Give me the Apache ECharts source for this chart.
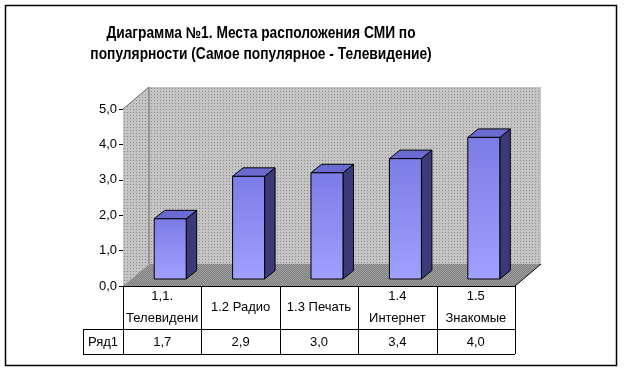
<!DOCTYPE html>
<html><head><meta charset="utf-8">
<script src="https://cdn.jsdelivr.net/npm/echarts@6/dist/echarts.min.js"></script>
<style>html,body{margin:0;padding:0;background:#fff}#c{width:624px;height:373px}</style>
</head><body><div id="c"></div>
<script>
const titleLines = ['Диаграмма №1. Места расположения СМИ по', 'популярности (Самое популярное - Телевидение)'];
const categories = ['1,1.\nТелевидени', '1.2 Радио', '1.3 Печать', '1.4\nИнтернет', '1.5\nЗнакомые'];
const values = [1.7, 2.9, 3.0, 3.4, 4.0];
const seriesName = 'Ряд1';
const yMin = 0, yMax = 5, yStep = 1;

const FONT = '"Liberation Sans", Arial, sans-serif';
const fmt = v => v.toFixed(1).replace('.', ',');
const DEPTH = [26, -22];      // full floor depth
const BAR_OFF = [8, -7];      // bar front-face offset from front plane
const BAR_DEP = [10.5, -8.5]; // bar depth

function makePattern(size, base, dot, cells) {
  const c = document.createElement('canvas');
  c.width = size; c.height = size;
  const g = c.getContext('2d');
  g.fillStyle = base; g.fillRect(0, 0, size, size);
  g.fillStyle = dot;
  cells.forEach(p => g.fillRect(p[0], p[1], 1, 1));
  return {image: c, repeat: 'repeat'};
}
const WALL = makePattern(3, '#c4c4c4', '#8e8e8e', [[1, 1]]);
const FLOOR = makePattern(2, '#7c7c7c', '#a2a2a2', [[0, 0], [1, 1]]);

const chart = echarts.init(document.getElementById('c'), null, {renderer: 'canvas'});

function wallsItem(params, api) {
  const cs = params.coordSys;
  const x0 = cs.x, x1 = cs.x + cs.width, y0 = cs.y, y1 = cs.y + cs.height;
  const dx = DEPTH[0], dy = DEPTH[1];
  return {type: 'group', children: [
    {type: 'polygon', shape: {points: [[x0, y1], [x0, y0], [x0 + dx, y0 + dy], [x0 + dx, y1 + dy]]}, style: {fill: WALL}},
    {type: 'rect', shape: {x: x0 + dx, y: y0 + dy, width: cs.width, height: cs.height}, style: {fill: WALL}},
    {type: 'polygon', shape: {points: [[x0, y1], [x1, y1], [x1 + dx, y1 + dy], [x0 + dx, y1 + dy]]}, style: {fill: FLOOR}},
    {type: 'line', shape: {x1: x0 + dx, y1: y0 + dy, x2: x0 + dx, y2: y1 + dy}, style: {stroke: '#6e6e6e', lineWidth: 1}},
    {type: 'line', shape: {x1: x0, y1: y0, x2: x0 + dx, y2: y0 + dy}, style: {stroke: '#6e6e6e', lineWidth: 1}},
    {type: 'line', shape: {x1: x1, y1: y1, x2: x1 + dx, y2: y1 + dy}, style: {stroke: '#000', lineWidth: 1}}
  ]};
}

function barItem(params, api) {
  const i = api.value(0), v = api.value(1);
  const base = api.coord([i, 0]), top = api.coord([i, v]);
  const band = api.size([1, 0])[0];
  const w = band * 0.408;
  const L = base[0] + BAR_OFF[0] - w / 2, R = L + w;
  const yt = top[1] + BAR_OFF[1], yb = base[1] + BAR_OFF[1];
  const ddx = BAR_DEP[0], ddy = BAR_DEP[1];
  const edge = {stroke: '#000', lineWidth: 1, lineJoin: 'round'};
  return {type: 'group', children: [
    {type: 'polygon', shape: {points: [[R, yt], [R + ddx, yt + ddy], [R + ddx, yb + ddy], [R, yb]]},
      style: Object.assign({fill: '#3a3a78'}, edge)},
    {type: 'polygon', shape: {points: [[L, yt], [R, yt], [R + ddx, yt + ddy], [L + ddx, yt + ddy]]},
      style: Object.assign({fill: '#6a6ad0'}, edge)},
    {type: 'rect', shape: {x: L, y: yt, width: w, height: yb - yt},
      style: Object.assign({fill: new echarts.graphic.LinearGradient(0, 0, 0, 1, [
        {offset: 0, color: '#7c7ce6'}, {offset: 1, color: '#a0a0ff'}])}, edge)}
  ]};
}

function tableItem(params, api) {
  const cs = params.coordSys;
  const x0 = cs.x, x1 = cs.x + cs.width, yTop = cs.y + cs.height;
  const band = api.size([1, 0])[0];
  const y2 = yTop + 43, y3 = y2 + 25, xk = x0 - 40;
  const ln = {stroke: '#000', lineWidth: 1};
  const kids = [
    {type: 'line', shape: {x1: x0, y1: yTop + 0.5, x2: x1, y2: yTop + 0.5}, style: ln},
    {type: 'line', shape: {x1: xk, y1: y2 + 0.5, x2: x1, y2: y2 + 0.5}, style: ln},
    {type: 'line', shape: {x1: xk, y1: y3 + 0.5, x2: x1, y2: y3 + 0.5}, style: ln},
    {type: 'line', shape: {x1: xk + 0.5, y1: y2, x2: xk + 0.5, y2: y3}, style: ln},
    {type: 'text', x: (xk + x0) / 2, y: (y2 + y3) / 2 + 1,
      style: {text: seriesName, align: 'center', verticalAlign: 'middle', font: '13px ' + FONT, fill: '#000'}}
  ];
  for (let k = 0; k <= categories.length; k++) {
    const xx = Math.round(x0 + k * band) + 0.5;
    kids.push({type: 'line', shape: {x1: xx, y1: yTop, x2: xx, y2: y3}, style: ln});
  }
  values.forEach((v, i) => {
    const c = api.coord([i, 0]);
    kids.push({type: 'text', x: c[0], y: (y2 + y3) / 2 + 1,
      style: {text: fmt(v), align: 'center', verticalAlign: 'middle', font: '13px ' + FONT, fill: '#000'}});
  });
  return {type: 'group', children: kids};
}

chart.setOption({
  animation: false,
  backgroundColor: '#fff',
  graphic: [
    {type: 'rect', shape: {x: 5.5, y: 5.5, width: 611, height: 360}, style: {fill: null, stroke: '#000', lineWidth: 1.5}, z: 100},
    {type: 'text', x: 261, y: 23.5, scaleX: 0.86, z: 100,
      style: {text: titleLines.join('\n'), align: 'center', verticalAlign: 'top', lineHeight: 21,
        font: 'bold 16px "Liberation Sans", Arial, sans-serif', fill: '#000'}}
  ],
  grid: {left: 123, right: 109, top: 109, bottom: 87},
  xAxis: {
    type: 'category', data: categories,
    axisLine: {show: false}, axisTick: {show: false},
    axisLabel: {interval: 0, margin: 21.5, verticalAlign: 'middle', lineHeight: 22, fontSize: 13, fontFamily: FONT, color: '#000'}
  },
  yAxis: {
    type: 'value', min: yMin, max: yMax, interval: yStep,
    axisLine: {show: true, lineStyle: {color: '#000', width: 1}},
    axisTick: {show: true, length: 4, lineStyle: {color: '#000'}},
    splitLine: {show: false},
    axisLabel: {formatter: fmt, margin: 6, fontSize: 13, fontFamily: FONT, color: '#000'}
  },
  series: [
    {type: 'custom', name: 'walls', renderItem: wallsItem, data: [[0, 0]], z: 1, silent: true},
    {type: 'custom', name: seriesName, renderItem: barItem, data: values.map((v, i) => [i, v]), encode: {x: 0, y: 1}, z: 3},
    {type: 'custom', name: 'table', renderItem: tableItem, data: [[0, 0]], z: 4, silent: true}
  ]
});
</script></body></html>
